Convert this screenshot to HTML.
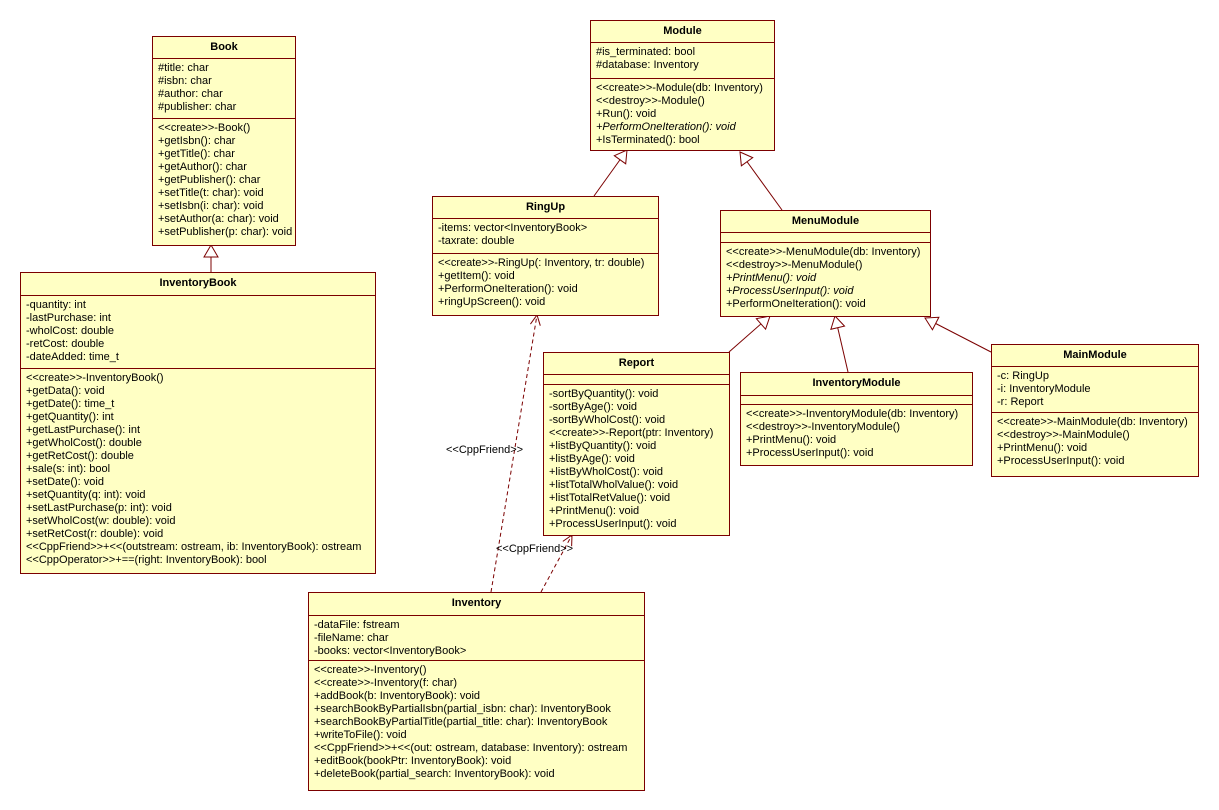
<!DOCTYPE html>
<html><head><meta charset="utf-8"><style>
body{margin:0;width:1219px;height:810px;background:#fff;position:relative;overflow:hidden;font-family:"Liberation Sans",Tahoma,sans-serif;font-size:11px;color:#000}
.b{position:absolute;background:#ffffc4;border:1px solid #7b0000;box-sizing:border-box}
.t{font-weight:bold;text-align:center;border-bottom:1px solid #7b0000;box-sizing:border-box;padding-top:4px}
.s{border-bottom:1px solid #7b0000;box-sizing:border-box;padding:3px 0 0 5px;line-height:13px;white-space:nowrap}
.s:last-child{border-bottom:none}
i{font-style:italic}
svg{position:absolute;left:0;top:0}
.l{position:absolute;white-space:nowrap}
</style></head><body>
<svg width="1219" height="810">
<g stroke="#7b0000" fill="none" stroke-width="1">
<line x1="211" y1="272" x2="211" y2="245"/>
<line x1="594" y1="196" x2="627" y2="150"/>
<line x1="782" y1="210" x2="740" y2="152"/>
<line x1="729" y1="352" x2="770" y2="316"/>
<line x1="848" y1="372" x2="835" y2="316"/>
<line x1="991" y1="352" x2="925" y2="318"/>
<line x1="491" y1="592" x2="537" y2="315" stroke-dasharray="4,3"/>
<line x1="541" y1="592" x2="572" y2="535" stroke-dasharray="4,3"/>
</g>
<g stroke="#7b0000" fill="#fff">
<polygon points="0,0 7,12 -7,12" transform="translate(211,245)"/>
<polygon points="0,0 7,12 -7,12" transform="translate(627,150) rotate(35.6)"/>
<polygon points="0,0 7,12 -7,12" transform="translate(740,152) rotate(-35.9)"/>
<polygon points="0,0 7,12 -7,12" transform="translate(770,316) rotate(48.7)"/>
<polygon points="0,0 7,12 -7,12" transform="translate(835,316) rotate(-13)"/>
<polygon points="0,0 7,12 -7,12" transform="translate(925,318) rotate(-62.7)"/>
</g>
<g stroke="#7b0000" fill="none">
<polyline points="-5,10 0,0 5,10" transform="translate(537,315) rotate(9.4)"/>
<polyline points="-5,10 0,0 5,10" transform="translate(572,535) rotate(28.5)"/>
</g>
</svg>

<div class="b" style="left:152px;top:36px;width:144px;height:210px">
<div class="t" style="height:22px">Book</div>
<div class="s" style="height:60px">#title: char<br>#isbn: char<br>#author: char<br>#publisher: char</div>
<div class="s" style="height:126px">&lt;&lt;create&gt;&gt;-Book()<br>+getIsbn(): char<br>+getTitle(): char<br>+getAuthor(): char<br>+getPublisher(): char<br>+setTitle(t: char): void<br>+setIsbn(i: char): void<br>+setAuthor(a: char): void<br>+setPublisher(p: char): void</div>
</div>

<div class="b" style="left:20px;top:272px;width:356px;height:302px">
<div class="t" style="height:23px">InventoryBook</div>
<div class="s" style="height:73px">-quantity: int<br>-lastPurchase: int<br>-wholCost: double<br>-retCost: double<br>-dateAdded: time_t</div>
<div class="s" style="height:204px">&lt;&lt;create&gt;&gt;-InventoryBook()<br>+getData(): void<br>+getDate(): time_t<br>+getQuantity(): int<br>+getLastPurchase(): int<br>+getWholCost(): double<br>+getRetCost(): double<br>+sale(s: int): bool<br>+setDate(): void<br>+setQuantity(q: int): void<br>+setLastPurchase(p: int): void<br>+setWholCost(w: double): void<br>+setRetCost(r: double): void<br>&lt;&lt;CppFriend&gt;&gt;+&lt;&lt;(outstream: ostream, ib: InventoryBook): ostream<br>&lt;&lt;CppOperator&gt;&gt;+==(right: InventoryBook): bool</div>
</div>

<div class="b" style="left:590px;top:20px;width:185px;height:131px">
<div class="t" style="height:22px">Module</div>
<div class="s" style="height:36px">#is_terminated: bool<br>#database: Inventory</div>
<div class="s" style="height:71px">&lt;&lt;create&gt;&gt;-Module(db: Inventory)<br>&lt;&lt;destroy&gt;&gt;-Module()<br>+Run(): void<br><i>+PerformOneIteration(): void</i><br>+IsTerminated(): bool</div>
</div>

<div class="b" style="left:432px;top:196px;width:227px;height:120px">
<div class="t" style="height:22px">RingUp</div>
<div class="s" style="height:35px">-items: vector&lt;InventoryBook&gt;<br>-taxrate: double</div>
<div class="s" style="height:61px">&lt;&lt;create&gt;&gt;-RingUp(: Inventory, tr: double)<br>+getItem(): void<br>+PerformOneIteration(): void<br>+ringUpScreen(): void</div>
</div>

<div class="b" style="left:720px;top:210px;width:211px;height:107px">
<div class="t" style="height:22px">MenuModule</div>
<div class="s" style="height:10px"></div>
<div class="s" style="height:73px">&lt;&lt;create&gt;&gt;-MenuModule(db: Inventory)<br>&lt;&lt;destroy&gt;&gt;-MenuModule()<br><i>+PrintMenu(): void</i><br><i>+ProcessUserInput(): void</i><br>+PerformOneIteration(): void</div>
</div>

<div class="b" style="left:543px;top:352px;width:187px;height:184px">
<div class="t" style="height:22px">Report</div>
<div class="s" style="height:10px"></div>
<div class="s" style="height:150px">-sortByQuantity(): void<br>-sortByAge(): void<br>-sortByWholCost(): void<br>&lt;&lt;create&gt;&gt;-Report(ptr: Inventory)<br>+listByQuantity(): void<br>+listByAge(): void<br>+listByWholCost(): void<br>+listTotalWholValue(): void<br>+listTotalRetValue(): void<br>+PrintMenu(): void<br>+ProcessUserInput(): void</div>
</div>

<div class="b" style="left:740px;top:372px;width:233px;height:94px">
<div class="t" style="height:23px">InventoryModule</div>
<div class="s" style="height:9px"></div>
<div class="s" style="height:60px">&lt;&lt;create&gt;&gt;-InventoryModule(db: Inventory)<br>&lt;&lt;destroy&gt;&gt;-InventoryModule()<br>+PrintMenu(): void<br>+ProcessUserInput(): void</div>
</div>

<div class="b" style="left:991px;top:344px;width:208px;height:133px">
<div class="t" style="height:22px">MainModule</div>
<div class="s" style="height:46px">-c: RingUp<br>-i: InventoryModule<br>-r: Report</div>
<div class="s" style="height:63px">&lt;&lt;create&gt;&gt;-MainModule(db: Inventory)<br>&lt;&lt;destroy&gt;&gt;-MainModule()<br>+PrintMenu(): void<br>+ProcessUserInput(): void</div>
</div>

<div class="b" style="left:308px;top:592px;width:337px;height:199px">
<div class="t" style="height:23px">Inventory</div>
<div class="s" style="height:45px">-dataFile: fstream<br>-fileName: char<br>-books: vector&lt;InventoryBook&gt;</div>
<div class="s" style="height:129px">&lt;&lt;create&gt;&gt;-Inventory()<br>&lt;&lt;create&gt;&gt;-Inventory(f: char)<br>+addBook(b: InventoryBook): void<br>+searchBookByPartialIsbn(partial_isbn: char): InventoryBook<br>+searchBookByPartialTitle(partial_title: char): InventoryBook<br>+writeToFile(): void<br>&lt;&lt;CppFriend&gt;&gt;+&lt;&lt;(out: ostream, database: Inventory): ostream<br>+editBook(bookPtr: InventoryBook): void<br>+deleteBook(partial_search: InventoryBook): void</div>
</div>

<div class="l" style="left:446px;top:444px">&lt;&lt;CppFriend&gt;&gt;</div>
<div class="l" style="left:496px;top:543px">&lt;&lt;CppFriend&gt;&gt;</div>
</body></html>
